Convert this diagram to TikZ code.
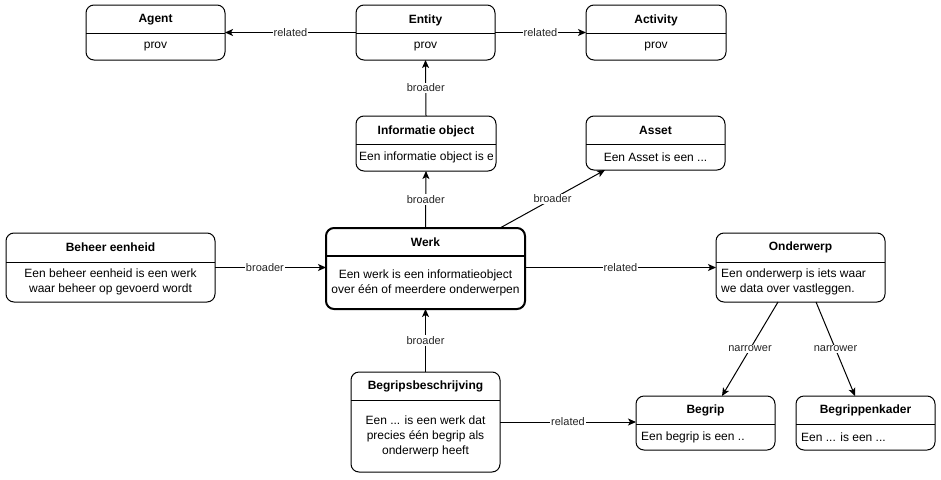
\documentclass[tikz,border=0pt]{standalone}
\usepackage{fontspec}
\setmainfont{Liberation Sans}
\usetikzlibrary{arrows.meta,calc}
\tikzset{
  x=1pt, y=-1pt,
  box/.style={draw, rounded corners=8pt, line width=1pt, inner sep=0pt, outer sep=0pt, anchor=north west},
  ttl/.style={font=\fontsize{12}{14}\selectfont\bfseries, inner sep=0pt},
  body/.style={font=\fontsize{12}{15}\selectfont, inner sep=0pt, align=center},
  lbody/.style={body, align=left, anchor=west},
  lbl/.style={font=\fontsize{11}{13}\selectfont, fill=white, inner sep=1pt, text=black!85},
  link/.style={line width=1pt, -{Stealth[length=8pt,width=7pt,inset=2pt]}},
}
% container with a header band: style, name, x, y, width, height, header height
\newcommand\swim[7][]{%
  \node[box,#1,minimum width=#5pt,minimum height=#6pt] (#2) at (#3,#4) {};
  \coordinate (#2-div) at ($(#2.north)+(0,#7)$);
  \draw[line width=1pt,#1] (#2.west |- #2-div) -- (#2.east |- #2-div);
  \coordinate (#2-top) at ($(#2.north)!0.5!(#2-div)$);
  \coordinate (#2-bot) at ($(#2-div)!0.5!(#2.south)$);
}
\begin{document}
\begin{tikzpicture}
\useasboundingbox (0,0) rectangle (941,479);

% containers
\swim{agent}{86}{5}{139}{55}{28}
\swim{entity}{356}{5}{139}{55}{28}
\swim{activity}{586}{5}{140}{55}{28}
\swim{info}{356}{116}{140}{55}{28}
\swim{asset}{586}{116}{139}{54}{28}
\swim[line width=2pt]{werk}{326}{228}{199}{81}{28}
\swim{beheer}{6}{233}{209}{69}{29}
\swim{onderwerp}{716}{233}{169}{69}{29}
\swim{bb}{351}{372}{149}{100}{28}
\swim{begrip}{636}{396}{139}{54}{28}
\swim{kader}{796}{396}{139}{54}{28}

% titles
\node[ttl] (agent-t) at ($(agent-top)+(0,1)$) {Agent};
\node[ttl] (entity-t) at ($(entity-top)+(0,1)$) {Entity};
\node[ttl] (activity-t) at ($(activity-top)+(0,1)$) {Activity};
\node[ttl] (info-t) at ($(info-top)+(0,1)$) {Informatie object};
\node[ttl] (asset-t) at (asset-top) {Asset};
\node[ttl] (werk-t) at (werk-top) {Werk};
\node[ttl] (beheer-t) at (beheer-top) {Beheer eenheid};
\node[ttl] (onderwerp-t) at (onderwerp-top) {Onderwerp};
\node[ttl] (bb-t) at (bb-top) {Begripsbeschrijving};
\node[ttl] (begrip-t) at (begrip-top) {Begrip};
\node[ttl] (kader-t) at (kader-top) {Begrippenkader};

% bodies
\node[body] (agent-b) at (agent-bot) {prov};
\node[body] (entity-b) at (entity-bot) {prov};
\node[body] (activity-b) at (activity-bot) {prov};
\begin{scope}
  \clip (info.west |- info-div) rectangle ($(info.south east)+(-4,0)$);
  \node[lbody] (info-b) at ($(info.west |- info-bot)+(3,0)$) {Een informatie object is een ...};
\end{scope}
\node[body] (asset-b) at (asset-bot) {Een Asset is een ...};
\node[body] (werk-b) at (werk-bot) {Een werk is een informatieobject\\over één of meerdere onderwerpen};
\node[body] (beheer-b) at (beheer-bot) {Een beheer eenheid is een werk\\waar beheer op gevoerd wordt};
\node[lbody] (onderwerp-b) at ($(onderwerp.west |- onderwerp-bot)+(5,0)$) {Een onderwerp is iets waar\\we data over vastleggen.};
\node[body] (bb-b) at (bb-bot) {Een ... is een werk dat\\precies één begrip als\\onderwerp heeft};
\node[lbody] (begrip-b) at ($(begrip.west |- begrip-bot)+(5,0)$) {Een begrip is een ..};
\node[lbody] (kader-b) at ($(kader.west |- kader-bot)+(5,0)$) {Een ... is een ...};

% connectors
\draw[link] (entity.west) -- node[lbl] {related} (agent.east);
\draw[link] (entity.east) -- node[lbl] {related} (activity.west);
\draw[link] (info.north) -- node[lbl] {broader} (entity.south);
\draw[link] (werk.north) -- node[lbl] {broader} (info.south);
\draw[link] ($(werk.north east)+(-25,0)$) -- node[lbl] {broader} ($(asset.south west)+(19,0)$);
\draw[link] (beheer.east) -- node[lbl,pos=0.45] {broader} (beheer.east -| werk.west);
\draw[link] (werk.east |- onderwerp.west) -- node[lbl] {related} (onderwerp.west);
\draw[link] (bb.north) -- node[lbl] {broader} (werk.south);
\draw[link] (bb.east) -- node[lbl] {related} (bb.east -| begrip.west);
\draw[link] ($(onderwerp.south west)+(62,0)$) -- node[lbl] {narrower} ($(begrip.north west)+(86,0)$);
\draw[link] ($(onderwerp.south west)+(100,0)$) -- node[lbl] {narrower} ($(kader.north west)+(59,0)$);
\end{tikzpicture}
\end{document}
